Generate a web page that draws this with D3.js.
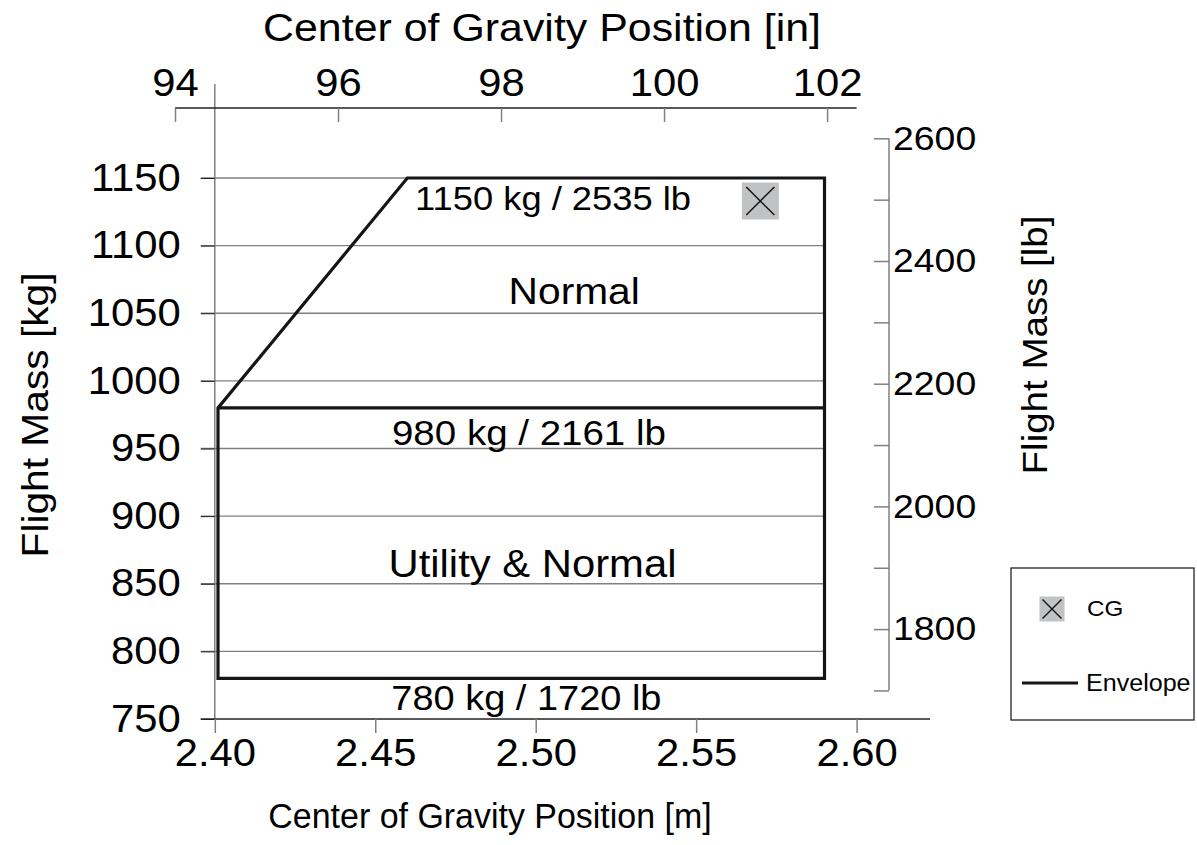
<!DOCTYPE html>
<html>
<head>
<meta charset="utf-8">
<script src="https://cdn.jsdelivr.net/npm/d3@7"></script>
<style>
  body { margin: 0; background: #fff; }
  svg text { font-family: Arial, "Liberation Sans", Helvetica, sans-serif; }
  .axis .domain { display: none; }
</style>
</head>
<body>
<svg id="chart" width="1197" height="845"></svg>
<script>
// data
let kgTicks = [750, 800, 850, 900, 950, 1000, 1050, 1100, 1150];
let mTicks = [2.40, 2.45, 2.50, 2.55, 2.60];
let inTicks = [94, 96, 98, 100, 102];
let lbTicks = [1700, 1800, 1900, 2000, 2100, 2200, 2300, 2400, 2500, 2600];
let lbLabels = [1800, 2000, 2200, 2400, 2600];

let envelope = [[2.401, 780], [2.401, 980], [2.46, 1150], [2.59, 1150], [2.59, 780]];
let utilityLimit = [[2.401, 980], [2.59, 980]];
let cgPoint = [[2.570, 1133]];

let zoneText = ['1150 kg / 2535 lb', 'Normal', '980 kg / 2161 lb', 'Utility & Normal', '780 kg / 1720 lb'];
let zoneM = [2.5054, 2.512, 2.4979, 2.499, 2.4971];
let zoneKg = [1135, 1067, 962, 865, 766];
let zoneSize = [33, 37, 35, 38, 34.5];

const KG_PER_LB = 1 / 2.20462;
const IN_TO_M = 0.0254;

let svg = d3.select('#chart');

let x = d3.scaleLinear().domain([2.40, 2.60]).range([214.8, 856.6]);
let y = d3.scaleLinear().domain([750, 1150]).range([719, 178]);
let xIn = d3.scaleLinear().domain([94, 102]).range([x(94 * IN_TO_M), x(102 * IN_TO_M)]);
let yLb = d3.scaleLinear().domain([1700, 2600]).range([y(1700 * KG_PER_LB), y(2600 * KG_PER_LB)]);

// stretch text sideways a little, the source renders it wider than Arial
function widen(sel, k) {
    sel.each(function(){
        let w = this.getComputedTextLength();
        d3.select(this).attr('textLength', w * k).attr('lengthAdjust', 'spacingAndGlyphs');
    });
}

let topY = 108;
let gridColor = '#808080';

// gridlines
svg.append('g').selectAll('line')
    .data(kgTicks.filter(d => d > 750))
    .enter()
    .append('line')
    .attr('x1', x(2.40) - 14)
    .attr('x2', x(2.59))
    .attr('y1', d => y(d))
    .attr('y2', d => y(d))
    .attr('stroke', gridColor)
    .attr('stroke-width', 1.3);

// left axis
svg.append('line')
    .attr('x1', x(2.40)).attr('x2', x(2.40))
    .attr('y1', 84).attr('y2', y(750))
    .attr('stroke', gridColor).attr('stroke-width', 1.5);
let leftAxis = svg.append('g').attr('class', 'axis')
    .attr('transform', 'translate(' + x(2.40) + ',0)')
    .call(d3.axisLeft(y).tickValues(kgTicks).tickSize(14).tickPadding(20).tickFormat(d3.format('d')));
leftAxis.selectAll('.tick line').attr('stroke', '#222');
leftAxis.selectAll('text').attr('font-size', 38).attr('fill', '#000').call(widen, 1.1);

// bottom axis
svg.append('line')
    .attr('x1', x(2.40) - 14).attr('x2', 930)
    .attr('y1', y(750)).attr('y2', y(750))
    .attr('stroke', '#222').attr('stroke-width', 1.3);
let bottomAxis = svg.append('g').attr('class', 'axis')
    .attr('transform', 'translate(0,' + y(750) + ')')
    .call(d3.axisBottom(x).tickValues(mTicks).tickSize(14).tickPadding(6).tickFormat(d3.format('.2f')));
bottomAxis.selectAll('.tick line').attr('stroke', gridColor).attr('stroke-width', 1.5);
bottomAxis.selectAll('text').attr('font-size', 38).attr('fill', '#000').call(widen, 1.1);

// top axis (inches)
svg.append('line')
    .attr('x1', xIn(94)).attr('x2', x(2.60))
    .attr('y1', topY).attr('y2', topY)
    .attr('stroke', '#222').attr('stroke-width', 1.3);
let topAxis = svg.append('g').attr('class', 'axis')
    .attr('transform', 'translate(0,' + topY + ')')
    .call(d3.axisTop(xIn).tickValues(inTicks).tickSize(-14).tickPadding(8).tickFormat(d3.format('d')));
topAxis.selectAll('.tick line').attr('stroke', gridColor).attr('stroke-width', 1.5);
topAxis.selectAll('text').attr('font-size', 38).attr('fill', '#000').attr('dy', '-0.1em').call(widen, 1.1);

// right axis (pounds)
let rightX = 889;
svg.append('line')
    .attr('x1', rightX).attr('x2', rightX)
    .attr('y1', yLb(2600)).attr('y2', yLb(1700))
    .attr('stroke', gridColor).attr('stroke-width', 1.5);
let rightAxis = svg.append('g').attr('class', 'axis')
    .attr('transform', 'translate(' + rightX + ',0)')
    .call(d3.axisRight(yLb).tickValues(lbTicks).tickSize(-15).tickPadding(4)
        .tickFormat(d => lbLabels.indexOf(d) >= 0 ? d : ''));
rightAxis.selectAll('.tick line').attr('stroke', gridColor).attr('stroke-width', 1.5);
rightAxis.selectAll('text').attr('font-size', 34).attr('fill', '#000').call(widen, 1.1);

// axis titles
svg.append('text')
    .attr('x', 490).attr('y', 828)
    .attr('text-anchor', 'middle').attr('font-size', 35)
    .text('Center of Gravity Position [m]').call(widen, 0.97);
svg.append('text')
    .attr('x', 542).attr('y', 41)
    .attr('text-anchor', 'middle').attr('font-size', 39)
    .text('Center of Gravity Position [in]').call(widen, 1.1);
svg.append('text')
    .attr('transform', 'translate(48,415) rotate(-90)')
    .attr('text-anchor', 'middle').attr('font-size', 37)
    .text('Flight Mass [kg]').call(widen, 1.1);
svg.append('text')
    .attr('transform', 'translate(1047,345) rotate(-90)')
    .attr('text-anchor', 'middle').attr('font-size', 35)
    .text('Flight Mass [lb]').call(widen, 1.1);

// envelope
let line = d3.line().x(d => x(d[0])).y(d => y(d[1]));
svg.append('path')
    .attr('d', line(envelope) + 'Z')
    .attr('fill', 'none')
    .attr('stroke', '#151515')
    .attr('stroke-width', 3.2)
    .attr('stroke-linejoin', 'miter');
svg.append('path')
    .attr('d', line(utilityLimit))
    .attr('fill', 'none')
    .attr('stroke', '#151515')
    .attr('stroke-width', 3.2);

// zone labels
svg.append('g').selectAll('text')
    .data(zoneText)
    .enter()
    .append('text')
    .attr('x', (d, i) => x(zoneM[i]))
    .attr('y', (d, i) => y(zoneKg[i]))
    .attr('dy', '0.36em')
    .attr('text-anchor', 'middle')
    .attr('font-size', (d, i) => zoneSize[i])
    .text(d => d)
    .call(widen, 1.1);

// CG marker
function drawCross(g, cx, cy, s) {
    g.append('rect')
        .attr('x', cx - s / 2).attr('y', cy - s / 2)
        .attr('width', s).attr('height', s)
        .attr('fill', '#c0c2c3');
    let h = s * 0.38;
    g.append('path')
        .attr('d', 'M' + (cx - h) + ',' + (cy - h) + 'L' + (cx + h) + ',' + (cy + h) +
                   'M' + (cx - h) + ',' + (cy + h) + 'L' + (cx + h) + ',' + (cy - h))
        .attr('stroke', '#111').attr('stroke-width', 1.4);
}
cgPoint.forEach(function(d){
    drawCross(svg.append('g'), x(d[0]), y(d[1]), 37);
});

// legend
let legend = svg.append('g');
legend.append('rect')
    .attr('x', 1011).attr('y', 568)
    .attr('width', 183).attr('height', 152)
    .attr('fill', '#fff').attr('stroke', '#222').attr('stroke-width', 1.3);
drawCross(legend, 1052, 609, 25);
legend.append('text')
    .attr('x', 1087).attr('y', 608).attr('dy', '0.36em')
    .attr('font-size', 22).text('CG').call(widen, 1.1);
legend.append('line')
    .attr('x1', 1022).attr('x2', 1078)
    .attr('y1', 683).attr('y2', 683)
    .attr('stroke', '#151515').attr('stroke-width', 3.2);
legend.append('text')
    .attr('x', 1086).attr('y', 683).attr('dy', '0.36em')
    .attr('font-size', 23).text('Envelope').call(widen, 1.09);
</script>
</body>
</html>
